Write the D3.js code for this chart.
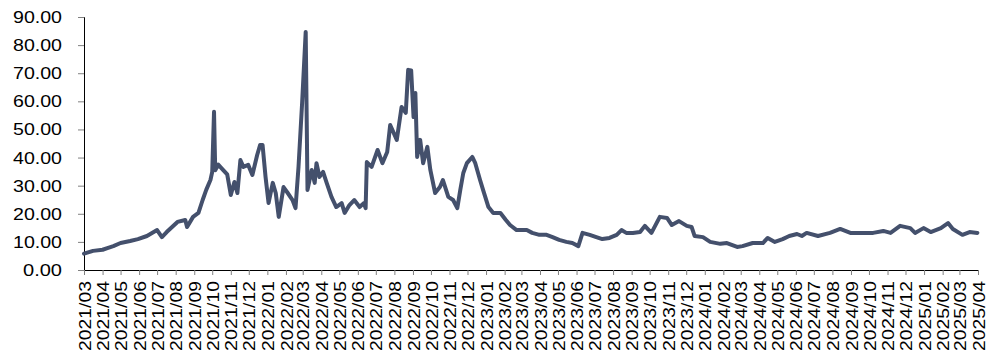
<!DOCTYPE html>
<html>
<head>
<meta charset="utf-8">
<script src="https://cdn.jsdelivr.net/npm/d3@7"></script>
<style>
  html, body { margin: 0; padding: 0; background: #fff; }
  svg { display: block; }
  text { font-family: "Liberation Sans", Arial, sans-serif; fill: #000; }
</style>
</head>
<body>
<svg id="chart" width="994" height="360"></svg>
<script>
const dates = [
  "2021-03-01","2021-03-16","2021-04-01","2021-04-09","2021-04-19","2021-05-01","2021-05-17","2021-05-30",
  "2021-06-14","2021-07-01","2021-07-09","2021-07-17","2021-08-04","2021-08-17","2021-08-20","2021-08-30",
  "2021-09-08","2021-09-15","2021-09-21","2021-09-28","2021-10-01","2021-10-04","2021-10-06","2021-10-11",
  "2021-10-19","2021-10-26","2021-11-01","2021-11-07","2021-11-12","2021-11-17","2021-11-22","2021-11-30",
  "2021-12-07","2021-12-15","2021-12-20","2021-12-24","2021-12-29","2022-01-03","2022-01-10","2022-01-15",
  "2022-01-20","2022-01-28","2022-02-04","2022-02-12","2022-02-17","2022-02-22","2022-02-28","2022-03-06",
  "2022-03-09","2022-03-16","2022-03-21","2022-03-24","2022-03-29","2022-04-04","2022-04-10","2022-04-18",
  "2022-04-26","2022-05-05","2022-05-10","2022-05-18","2022-05-26","2022-06-04","2022-06-11","2022-06-14",
  "2022-06-16","2022-06-24","2022-07-04","2022-07-12","2022-07-20","2022-07-25","2022-08-05","2022-08-13",
  "2022-08-20","2022-08-24","2022-08-29","2022-09-02","2022-09-05","2022-09-08","2022-09-13","2022-09-18",
  "2022-09-25","2022-09-30","2022-10-08","2022-10-16","2022-10-21","2022-10-30","2022-11-07","2022-11-14",
  "2022-11-19","2022-11-24","2022-11-30","2022-12-09","2022-12-14","2022-12-22","2022-12-27","2023-01-05",
  "2023-01-13","2023-01-25","2023-02-03","2023-02-10","2023-02-21","2023-03-03","2023-03-10","2023-03-19",
  "2023-03-31","2023-04-12","2023-04-22","2023-05-03","2023-05-15","2023-05-25","2023-06-04","2023-06-11",
  "2023-06-23","2023-07-04","2023-07-14","2023-07-26","2023-08-07","2023-08-15","2023-08-23","2023-09-03",
  "2023-09-15","2023-09-23","2023-10-04","2023-10-18","2023-10-30","2023-11-07","2023-11-19","2023-12-02",
  "2023-12-10","2023-12-15","2023-12-29","2024-01-10","2024-01-27","2024-02-07","2024-02-24","2024-03-04",
  "2024-03-21","2024-04-07","2024-04-15","2024-04-27","2024-05-10","2024-05-21","2024-06-03","2024-06-11",
  "2024-06-19","2024-07-08","2024-07-28","2024-08-14","2024-08-31","2024-09-16","2024-10-08","2024-10-25",
  "2024-11-06","2024-11-22","2024-12-09","2024-12-17","2024-12-31","2025-01-12","2025-01-29","2025-02-10",
  "2025-02-18","2025-03-06","2025-03-18","2025-03-31"
];
const values = [
  5.8,6.8,7.2,7.8,8.5,9.6,10.3,11.0,
  12.1,14.2,11.7,13.5,17.1,17.8,15.3,18.9,
  20.3,24.9,28.5,32.0,34.9,56.3,35.5,37.5,
  35.6,34.0,26.7,31.3,27.4,39.1,36.7,37.4,
  33.8,40.9,44.5,44.5,33.1,23.8,31.0,27.4,
  18.9,29.5,27.4,24.9,22.0,36.7,59.4,84.7,
  28.5,35.6,31.0,38.0,33.1,34.9,31.0,26.0,
  22.4,23.8,20.3,23.1,24.9,22.4,23.8,22.0,
  38.4,36.7,42.7,38.0,42.0,51.6,46.3,58.0,
  55.9,71.2,71.0,54.4,63.0,40.2,46.3,38.0,
  43.8,35.6,27.4,29.5,32.0,26.0,24.9,22.0,
  28.5,34.5,38.0,40.2,38.0,32.0,28.5,22.4,
  20.3,20.3,17.8,16.0,14.2,14.2,14.2,13.2,
  12.5,12.5,11.7,10.7,10.0,9.6,8.5,13.2,
  12.5,11.7,11.0,11.4,12.5,14.2,13.2,13.2,
  13.5,15.7,13.2,18.9,18.5,16.0,17.4,15.7,
  15.3,12.1,11.7,10.0,9.3,9.6,8.2,8.5,
  9.6,9.6,11.4,10.0,11.0,12.1,12.8,12.1,
  13.2,12.1,13.2,14.6,13.2,13.2,13.2,13.9,
  13.2,15.7,14.9,13.2,14.9,13.5,14.9,16.7,
  14.6,12.5,13.5,13.2
];
const yTicks = [0,10,20,30,40,50,60,70,80,90];
const monthLabels = [
  "2021/03","2021/04","2021/05","2021/06","2021/07","2021/08","2021/09","2021/10","2021/11","2021/12",
  "2022/01","2022/02","2022/03","2022/04","2022/05","2022/06","2022/07","2022/08","2022/09","2022/10","2022/11","2022/12",
  "2023/01","2023/02","2023/03","2023/04","2023/05","2023/06","2023/07","2023/08","2023/09","2023/10","2023/11","2023/12",
  "2024/01","2024/02","2024/03","2024/04","2024/05","2024/06","2024/07","2024/08","2024/09","2024/10","2024/11","2024/12",
  "2025/01","2025/02","2025/03","2025/04"
];

(function () {
const parse = d3.timeParse("%Y-%m-%d");
const parseM = d3.timeParse("%Y/%m");
const data = dates.map((d, i) => ({ date: parse(d), value: values[i] }));
const tickDates = monthLabels.map(m => parseM(m));

const mLeft = 84, mRight = 978, mTop = 17, mBottom = 270;
const svg = d3.select("#chart");

const x = d3.scaleTime()
  .domain([tickDates[0], tickDates[tickDates.length - 1]])
  .range([mLeft, mRight]);
const y = d3.scaleLinear().domain([0, 90]).range([mBottom, mTop]);

// Y axis
const yAxis = svg.append("g")
  .attr("transform", `translate(${mLeft},0)`)
  .call(d3.axisLeft(y).tickValues(yTicks).tickSize(6).tickPadding(16).tickFormat(d3.format(".2f")));
yAxis.select(".domain").attr("stroke", "#000").attr("stroke-width", 1);
yAxis.selectAll(".tick line").attr("stroke", "#808080");
yAxis.selectAll(".tick text")
  .style("font-size", "17px")
  .attr("fill", "#000")
  .attr("textLength", d => d >= 10 ? 49 : 39)
  .attr("lengthAdjust", "spacingAndGlyphs");

// X axis
const xAxis = svg.append("g")
  .attr("transform", `translate(0,${mBottom})`)
  .call(d3.axisBottom(x).tickValues(tickDates).tickSize(5).tickFormat((d, i) => monthLabels[i]));
xAxis.select(".domain").attr("stroke", "#000").attr("stroke-width", 1);
xAxis.selectAll(".tick line").attr("stroke", "#808080");
xAxis.selectAll(".tick text")
  .style("font-size", "17px")
  .attr("fill", "#000")
  .attr("text-anchor", "end")
  .attr("transform", "rotate(-90)")
  .attr("x", -11)
  .attr("y", 0)
  .attr("dy", "0.36em")
  .attr("textLength", 70)
  .attr("lengthAdjust", "spacingAndGlyphs");

// Line
const line = d3.line()
  .x(d => x(d.date))
  .y(d => y(d.value));
svg.append("path")
  .datum(data)
  .attr("fill", "none")
  .attr("stroke", "#44506c")
  .attr("stroke-width", 4)
  .attr("stroke-linejoin", "round")
  .attr("stroke-linecap", "round")
  .attr("d", line);
})();
</script>
</body>
</html>
